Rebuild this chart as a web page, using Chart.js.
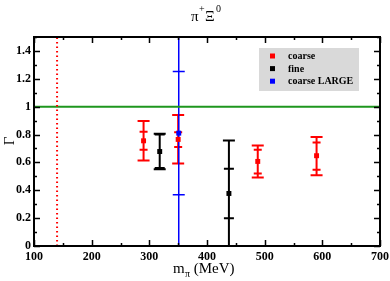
<!DOCTYPE html>
<html>
<head>
<meta charset="utf-8">
<script src="https://cdn.jsdelivr.net/npm/chart.js@4/dist/chart.umd.min.js"></script>
<style>
  html, body { margin: 0; padding: 0; background: #fff; }
  #wrap { width: 390px; height: 281px; }
</style>
</head>
<body>
<div id="wrap"><canvas id="chart" width="390" height="281"></canvas></div>
<script>
// values
const coarseX = [290, 350, 488, 590]
const coarseY = [0.755, 0.765, 0.607, 0.648]
const coarseInner = [[0.69, 0.82], [0.71, 0.816], [0.52, 0.69], [0.547, 0.742]]
const coarseOuter = [[0.613, 0.898], [0.592, 0.94], [0.492, 0.721], [0.508, 0.783]]

const fineX = [318, 438]
const fineY = [0.678, 0.377]
const fineInner = [[0.56, 0.80], [0.2, 0.554]]
const fineOuter = [[0.551, 0.805], [0.0, 0.757]]

const largeX = [351]
const largeY = [0.81]
const largeInner = [[0.368, 1.253]]
const largeOuter = [[-1, 3]]

const physPionMass = 140
const unitLine = 1
const yTicks = [0, 0.2, 0.4, 0.6, 0.8, 1, 1.2, 1.4]

const SERIF = '"Liberation Serif", "Times New Roman", serif'

function pts(xs, ys) {
    return xs.map((x, i) => ({ x: x, y: ys[i] }))
}

const errorBars = {
    coarse: { inner: coarseInner, outer: coarseOuter, capIn: 4, capOut: 6, width: 2 },
    fine: { inner: fineInner, outer: fineOuter, capIn: 5, capOut: 6, width: 2 },
    'coarse LARGE': { inner: largeInner, outer: largeOuter, capIn: 6, capOut: 6, width: 1.5 }
}

const errorBarPlugin = {
    id: 'errorBars',
    beforeDatasetsDraw(chart) {
        const { ctx, chartArea, scales } = chart
        ctx.save()
        ctx.beginPath()
        ctx.rect(chartArea.left, chartArea.top, chartArea.right - chartArea.left, chartArea.bottom - chartArea.top)
        ctx.clip()
        chart.data.datasets.forEach(ds => {
            const eb = errorBars[ds.label]
            if (!eb) return
            ctx.strokeStyle = ds.borderColor
            ctx.lineWidth = eb.width
            ds.data.forEach((p, i) => {
                const x = scales.x.getPixelForValue(p.x)
                const o = eb.outer[i], n = eb.inner[i]
                const y0 = scales.y.getPixelForValue(o[0]), y1 = scales.y.getPixelForValue(o[1])
                ctx.beginPath()
                ctx.moveTo(x, y0); ctx.lineTo(x, y1)
                ctx.moveTo(x - eb.capOut, y0); ctx.lineTo(x + eb.capOut, y0)
                ctx.moveTo(x - eb.capOut, y1); ctx.lineTo(x + eb.capOut, y1)
                const y2 = scales.y.getPixelForValue(n[0]), y3 = scales.y.getPixelForValue(n[1])
                ctx.moveTo(x - eb.capIn, y2); ctx.lineTo(x + eb.capIn, y2)
                ctx.moveTo(x - eb.capIn, y3); ctx.lineTo(x + eb.capIn, y3)
                ctx.stroke()
            })
        })
        ctx.restore()
    }
}

// frame, inward ticks, legend and titles (xmgrace look)
const decorPlugin = {
    id: 'decor',
    afterDraw(chart) {
        const { ctx, chartArea: a, scales } = chart
        ctx.save()
        ctx.strokeStyle = '#000'
        ctx.lineWidth = 1.5
        ctx.beginPath()
        for (let v = 100; v <= 700; v += 50) {
            const x = Math.round(scales.x.getPixelForValue(v)) + 0.5
            const len = v % 100 === 0 ? 6 : 3
            ctx.moveTo(x, a.bottom); ctx.lineTo(x, a.bottom - len)
            ctx.moveTo(x, a.top); ctx.lineTo(x, a.top + len)
        }
        for (let k = 0; k <= 15; k++) {
            const y = Math.round(scales.y.getPixelForValue(k / 10)) + 0.5
            const len = k % 2 === 0 ? 6 : 3
            ctx.moveTo(a.left, y); ctx.lineTo(a.left + len, y)
            ctx.moveTo(a.right, y); ctx.lineTo(a.right - len, y)
        }
        ctx.stroke()
        ctx.lineWidth = 2
        ctx.strokeRect(a.left, a.top, a.right - a.left, a.bottom - a.top)

        // legend
        ctx.fillStyle = '#d9d9d9'
        ctx.fillRect(259, 48, 100, 43)
        ctx.font = 'bold 10px ' + SERIF
        ctx.textBaseline = 'middle'
        const items = chart.data.datasets.filter(d => errorBars[d.label])
        items.forEach((d, i) => {
            const y = 56 + i * 12.6
            ctx.fillStyle = d.borderColor
            ctx.fillRect(270, y - 2.5, 5, 5)
            ctx.fillStyle = '#000'
            ctx.fillText(d.label, 288, y + 0.5)
        })

        // title
        ctx.fillStyle = '#000'
        ctx.textBaseline = 'alphabetic'
        ctx.font = '15px ' + SERIF
        ctx.fillText('π', 191, 21)
        ctx.font = '10px ' + SERIF
        ctx.fillText('+', 199, 12)
        ctx.font = '15px ' + SERIF
        ctx.fillText('Ξ', 205, 21)
        ctx.font = '10px ' + SERIF
        ctx.fillText('0', 216, 12)

        // x title
        ctx.font = '15px ' + SERIF
        ctx.fillText('m', 173, 273)
        ctx.font = '10px ' + SERIF
        ctx.fillText('π', 185, 277)
        ctx.font = '15px ' + SERIF
        ctx.fillText(' (MeV)', 190, 273)

        // y title
        ctx.translate(14, 141)
        ctx.rotate(-Math.PI / 2)
        ctx.textAlign = 'center'
        ctx.font = '15px ' + SERIF
        ctx.fillText('Γ', 0, 0)
        ctx.restore()
    }
}

new Chart(document.getElementById('chart'), {
    type: 'scatter',
    data: {
        datasets: [
            {
                type: 'line', label: 'ref-x', data: [{ x: physPionMass, y: 0 }, { x: physPionMass, y: 1.5 }],
                borderColor: '#ff0000', borderWidth: 2, borderDash: [1.5, 3], pointRadius: 0, showLine: true, order: 5
            },
            {
                type: 'line', label: 'ref-y', data: [{ x: 100, y: unitLine }, { x: 700, y: unitLine }],
                borderColor: '#1e961e', borderWidth: 2, pointRadius: 0, showLine: true, order: 5
            },
            {
                label: 'coarse', data: pts(coarseX, coarseY), borderColor: '#ff0000', backgroundColor: '#ff0000',
                pointStyle: 'rect', pointRadius: 3.5, pointBorderWidth: 0, order: 1
            },
            {
                label: 'fine', data: pts(fineX, fineY), borderColor: '#000000', backgroundColor: '#000000',
                pointStyle: 'rect', pointRadius: 3.5, pointBorderWidth: 0, order: 1
            },
            {
                label: 'coarse LARGE', data: pts(largeX, largeY), borderColor: '#0000ff', backgroundColor: '#0000ff',
                pointStyle: 'rect', pointRadius: 3.5, pointBorderWidth: 0, order: 1
            }
        ]
    },
    options: {
        responsive: false,
        animation: false,
        layout: { padding: { top: 37, right: 10, left: 0, bottom: 0 } },
        plugins: { legend: { display: false }, title: { display: false }, tooltip: { enabled: false } },
        scales: {
            x: {
                type: 'linear', min: 100, max: 700,
                grid: { display: false, drawTicks: false }, border: { display: false },
                ticks: { stepSize: 100, padding: 4, color: '#000', font: { family: SERIF, size: 12, weight: 'bold' }, maxRotation: 0 },
                afterFit(s) { s.height = 35; s.paddingLeft = 0; s.paddingRight = 0 }
            },
            y: {
                type: 'linear', min: 0, max: 1.5,
                grid: { display: false, drawTicks: false }, border: { display: false },
                ticks: { padding: 3, color: '#000', font: { family: SERIF, size: 12, weight: 'bold' },
                    callback: v => String(+v.toFixed(1)) },
                afterBuildTicks(s) { s.ticks = yTicks.map(v => ({ value: v })) },
                afterFit(s) { s.width = 34; s.paddingTop = 0; s.paddingBottom = 0 }
            }
        }
    },
    plugins: [errorBarPlugin, decorPlugin]
})
</script>
</body>
</html>
